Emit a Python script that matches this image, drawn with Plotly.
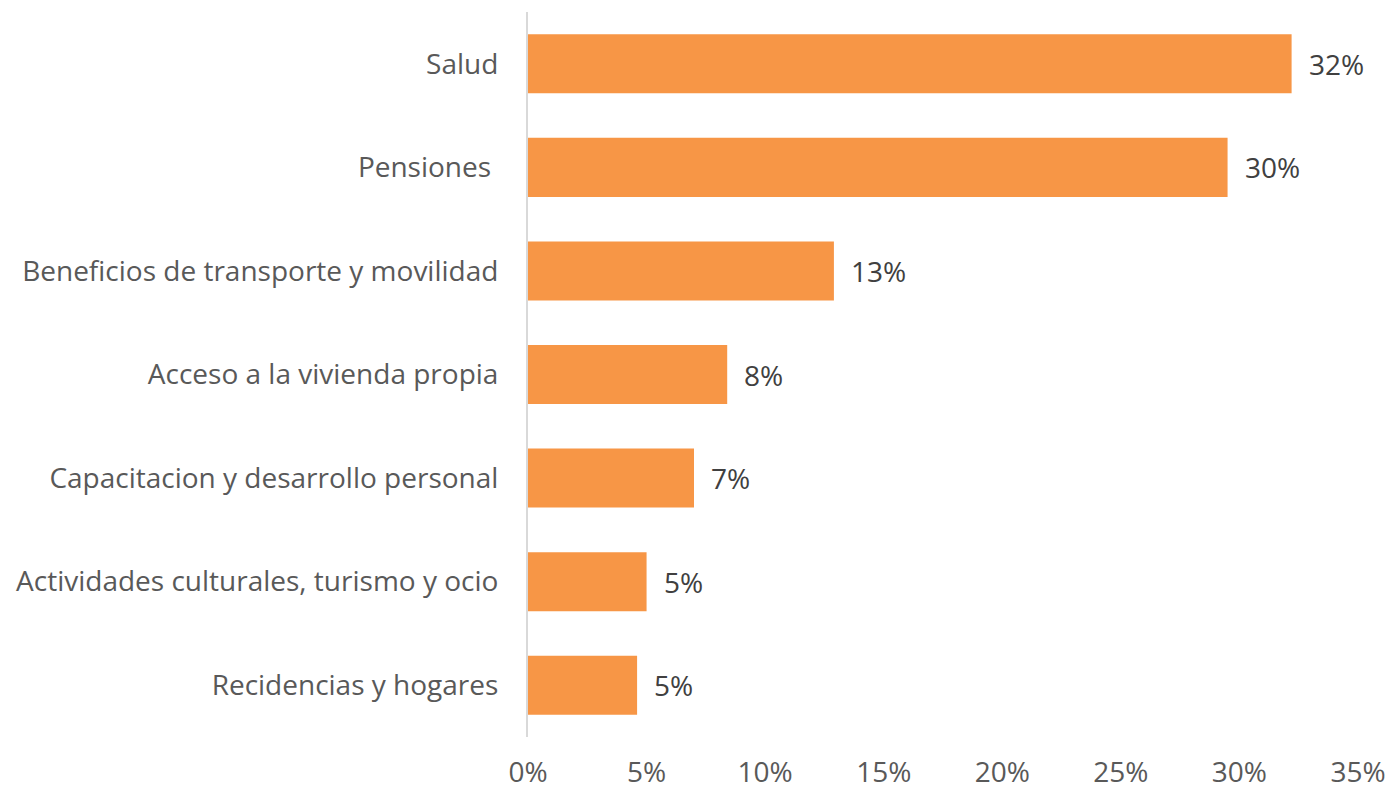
import plotly.graph_objects as go

categories = [
    "Salud",
    "Pensiones ",
    "Beneficios de transporte y movilidad",
    "Acceso a la vivienda propia",
    "Capacitacion y desarrollo personal",
    "Actividades culturales, turismo y ocio",
    "Recidencias y hogares",
]
values = [0.322, 0.295, 0.129, 0.084, 0.070, 0.050, 0.046]
labels = ["32%", "30%", "13%", "8%", "7%", "5%", "5%"]
tick_vals = [0, 0.05, 0.10, 0.15, 0.20, 0.25, 0.30, 0.35]
tick_text = ["0%", "5%", "10%", "15%", "20%", "25%", "30%", "35%"]

FONT = "Open Sans"
FS = 28
BAR_COLOR = "#F79646"

fig = go.Figure(
    go.Bar(
        x=values,
        y=categories,
        orientation="h",
        marker=dict(color=BAR_COLOR, line=dict(width=0)),
        hoverinfo="skip",
    )
)

annotations = [
    dict(
        x=v, y=c, xref="x", yref="y", text=t, showarrow=False,
        xanchor="left", yanchor="middle", xshift=15,
        font=dict(family=FONT, size=FS, color="#404040"),
    )
    for v, c, t in zip(values, categories, labels)
]

fig.update_layout(
    width=1389,
    height=792,
    paper_bgcolor="white",
    plot_bgcolor="white",
    margin=dict(l=528, r=31, t=12, b=55),
    bargap=0.43,
    showlegend=False,
    annotations=annotations,
    font=dict(family=FONT, size=FS, color="#595959"),
    xaxis=dict(
        range=[0, 0.35],
        tickvals=tick_vals,
        ticktext=tick_text,
        showgrid=False,
        zeroline=False,
        showline=False,
        ticks="",
        automargin=False,
        ticklabelstandoff=16,
        tickfont=dict(family=FONT, size=FS, color="#595959"),
    ),
    yaxis=dict(
        categoryorder="array",
        categoryarray=categories[::-1],
        showgrid=False,
        zeroline=False,
        showline=True,
        linecolor="#D9D9D9",
        linewidth=2,
        ticks="",
        automargin=False,
        ticklabelstandoff=22,
        tickfont=dict(family=FONT, size=FS, color="#595959"),
    ),
)

fig.write_html(
    "out.html",
    config={"displayModeBar": False},
    post_script="document.body.style.margin='0';document.body.style.overflow='hidden';",
)
